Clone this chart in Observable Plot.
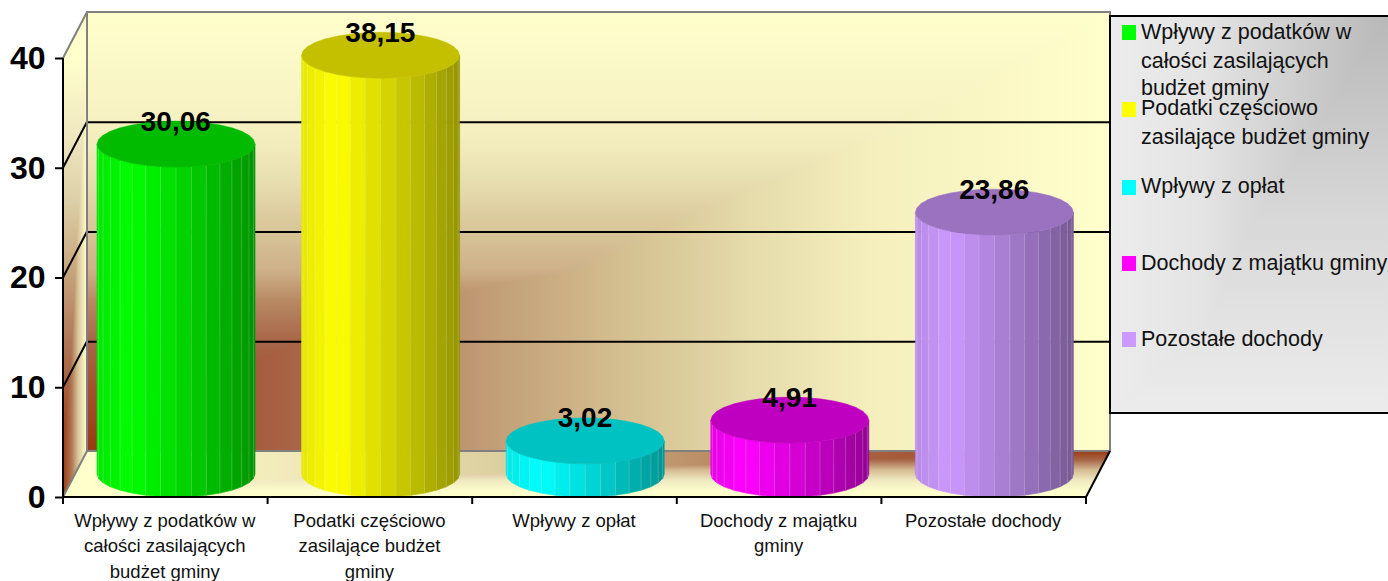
<!DOCTYPE html>
<html lang="pl">
<head>
<meta charset="utf-8">
<script src="https://cdn.jsdelivr.net/npm/d3@7"></script>
<script src="https://cdn.jsdelivr.net/npm/@observablehq/plot@0.6"></script>
<style>html,body{margin:0;padding:0;background:#fff}svg{display:block}</style>
</head>
<body>
<div id="chart"></div>
<script>
const categories = [
  "Wpływy z podatków w całości zasilających budżet gminy",
  "Podatki częściowo zasilające budżet gminy",
  "Wpływy z opłat",
  "Dochody z majątku gminy",
  "Pozostałe dochody"
];
const values = [30.06, 38.15, 3.02, 4.91, 23.86];
const valueLabels = ["30,06", "38,15", "3,02", "4,91", "23,86"];
const axisLabelLines = [
  "Wpływy z podatków w\ncałości zasilających\nbudżet gminy",
  "Podatki częściowo\nzasilające budżet\ngminy",
  "Wpływy z opłat",
  "Dochody z majątku\ngminy",
  "Pozostałe dochody"
];
const legendLines = [
  ["Wpływy z podatków w", "całości zasilających", "budżet gminy"],
  ["Podatki częściowo", "zasilające budżet gminy"],
  ["Wpływy z opłat"],
  ["Dochody z majątku gminy"],
  ["Pozostałe dochody"]
];
const yTicks = [0, 10, 20, 30, 40];
const bodyColors = ["#00ff00", "#ffff00", "#00ffff", "#ff00ff", "#cc99ff"];
const topColors = ["#00bb00", "#c4c000", "#00c2c2", "#c000c0", "#9a72c0"];

// Layout constants
const DEPTH_X = 24, DEPTH_Y = -46;
const RX = 79, RY = 23, FACETS = 32, CYL_DX = 10.7;
const rows = categories.map((c, i) => ({c, v: values[i], label: valueLabels[i]}));
const NS = "http://www.w3.org/2000/svg";

// Gradient stops, keyed on pixel position along each direction of the panels
const wallH = [[86,"#993a12"],[300,"#a86648"],[460,"#bd9570"],[626,"#d4c090"],[750,"#e5dbab"],[875,"#f5efbe"],[1110,"#ffffcc"]];
const wallV = [[451,"#993a12"],[341,"#a86648"],[300,"#b88a64"],[271,"#cdb088"],[231,"#d8c498"],[180,"#e8dfb0"],[134,"#f5efc0"],[12,"#ffffcc"]];
const floorH = [[1110,"#993a12"],[870,"#a86040"],[660,"#c09a70"],[500,"#dccfa0"],[300,"#f0e8b8"],[87,"#ffffcc"]];
const floorV = [[451,"#993a12"],[460,"#a86648"],[470,"#d4bb92"],[480,"#efe8c0"],[492,"#ffffcc"]];
const leftH = [[63,"#993a12"],[72,"#b07a58"],[78,"#d8c498"],[84,"#f5efc0"],[87,"#ffffcc"]];
const leftV = [[497,"#993a12"],[427,"#a04820"],[340,"#b07858"],[266,"#c8a880"],[200,"#ddd0a8"],[133,"#f0e8c0"],[58,"#ffffcc"]];
const legendH = [[1110,"#ececec"],[1200,"#e4e4e4"],[1290,"#d0d0d0"],[1388,"#b8b8b8"]];
const legendV = [[16,"#b8b8b8"],[220,"#d8d8d8"],[413,"#ececec"]];

function el(name, attrs, parent) {
  const e = document.createElementNS(NS, name);
  for (const k in attrs) e.setAttribute(k, attrs[k]);
  if (parent) parent.appendChild(e);
  return e;
}
let gid = 0;
function grad(defs, horizontal, stops) {
  const id = "g" + (++gid);
  const a = stops[0][0], b = stops[stops.length - 1][0];
  const g = el("linearGradient", Object.assign({id, gradientUnits: "userSpaceOnUse"},
    horizontal ? {x1: a, x2: b, y1: 0, y2: 0} : {x1: 0, x2: 0, y1: a, y2: b}), defs);
  for (const [p, c] of stops) el("stop", {offset: (p - a) / (b - a), "stop-color": c}, g);
  return `url(#${id})`;
}
// Panel coloured by the lighter of a horizontal and a vertical gradient.
function panel(parent, defs, points, hStops, vStops) {
  const id = "c" + (++gid);
  const cp = el("clipPath", {id}, defs);
  el("polygon", {points: points.map(p => p.join(",")).join(" ")}, cp);
  const xs = points.map(p => p[0]), ys = points.map(p => p[1]);
  const box = {x: d3.min(xs), y: d3.min(ys), width: d3.max(xs) - d3.min(xs), height: d3.max(ys) - d3.min(ys)};
  const g = el("g", {"clip-path": `url(#${id})`, style: "isolation:isolate"}, parent);
  el("rect", Object.assign({fill: grad(defs, true, hStops)}, box), g);
  el("rect", Object.assign({fill: grad(defs, false, vStops), style: "mix-blend-mode:lighten"}, box), g);
}

function walls(index, {x, y}) {
  const g = el("g", {});
  const defs = el("defs", {}, g);
  const [L, R] = x.range();
  const y0 = y(0), y40 = y(40);
  const bL = L + DEPTH_X, bR = R + DEPTH_X, bB = y0 + DEPTH_Y, bT = y40 + DEPTH_Y;
  panel(g, defs, [[bL,bT],[bR,bT],[bR,bB],[bL,bB]], wallH, wallV);
  panel(g, defs, [[L,y0],[R,y0],[bR,bB],[bL,bB]], floorH.slice().reverse(), floorV);
  panel(g, defs, [[L,y40],[bL,bT],[bL,bB],[L,y0]], leftH, leftV);
  for (const t of yTicks.slice(1, 4))
    el("line", {x1: L, y1: y(t), x2: bL, y2: y(t) + DEPTH_Y, stroke: "#000", "stroke-width": 2}, g);
  return g;
}

function frame(index, {x, y}) {
  const g = el("g", {fill: "none", "stroke-width": 2});
  const [L, R] = x.range();
  const y0 = y(0), y40 = y(40);
  const bL = L + DEPTH_X, bR = R + DEPTH_X, bB = y0 + DEPTH_Y, bT = y40 + DEPTH_Y;
  el("path", {stroke: "#808080", d: `M${L},${y40}L${bL},${bT}H${bR}V${bB}H${bL}V${bT}M${bL},${bB}L${L},${y0}`}, g);
  el("path", {stroke: "#000", d: `M${R},${y0}L${bR},${bB}`}, g);
  return g;
}

function cylinders(index, {x, y}) {
  const g = el("g", {});
  const off = x.bandwidth() / 2 + CYL_DX;
  rows.forEach((d, i) => {
    const cx = x(d.c) + off;
    const yBot = y(0) - RY, yTop = y(d.v) - RY;
    const shade = a => d3.interpolateRgb(bodyColors[i], "#000")(a);
    const body = d3.scaleLinear().domain([0, 0.22, 0.55, 1])
      .range([shade(0.1), bodyColors[i], shade(0.17), shade(0.42)]);
    for (let k = 0; k < FACETS / 2; k++) {
      const a0 = Math.PI - k * 2 * Math.PI / FACETS, a1 = a0 - 2 * Math.PI / FACETS;
      const xa = cx + RX * Math.cos(a0), xb = cx + RX * Math.cos(a1);
      const da = RY * Math.sin(a0), db = RY * Math.sin(a1);
      const c = body(((xa + xb) / 2 - cx + RX) / (2 * RX));
      el("polygon", {
        points: `${xa},${yTop + da} ${xb},${yTop + db} ${xb},${yBot + db} ${xa},${yBot + da}`,
        fill: c, stroke: c, "stroke-width": 0.6
      }, g);
      if (k > 0) el("line", {x1: xa, y1: yTop + da, x2: xa, y2: yBot + da, stroke: "#fff", "stroke-opacity": 0.2, "stroke-width": 1}, g);
    }
    const pts = d3.range(FACETS).map(k => {
      const a = k * 2 * Math.PI / FACETS;
      return `${cx + RX * Math.cos(a)},${yTop + RY * Math.sin(a)}`;
    }).join(" ");
    el("polygon", {points: pts, fill: topColors[i], stroke: topColors[i], "stroke-width": 0.5}, g);
  });
  return g;
}

function xBoundaryTicks(index, {x, y}) {
  const g = el("g", {stroke: "#000", "stroke-width": 2, fill: "none"});
  const [L, R] = x.range(), b = x.bandwidth();
  el("line", {x1: L, x2: R + 1, y1: y(0), y2: y(0)}, g);
  el("line", {x1: L, x2: L, y1: y(40), y2: y(0)}, g);
  for (let i = 0; i <= categories.length; i++)
    el("line", {x1: L + i * b, x2: L + i * b, y1: y(0), y2: y(0) + 7}, g);
  return g;
}

function legend(index, scales, channels, {width}) {
  const g = el("g", {});
  const defs = el("defs", {}, g);
  const lx = 1110, ty = 16, by = 413;
  panel(g, defs, [[lx,ty],[width,ty],[width,by],[lx,by]], legendH, legendV);
  el("path", {d: `M${width},${ty}H${lx}V${by}H${width}`, fill: "none", stroke: "#000", "stroke-width": 2}, g);
  const swatchTop = [25, 102, 180, 256, 332];
  const textY = [[39, 68, 95], [115, 144], [193], [270], [346]];
  legendLines.forEach((lines, i) => {
    el("rect", {x: 1122, y: swatchTop[i], width: 14, height: 15, fill: bodyColors[i]}, g);
    lines.forEach((ln, j) => {
      const t = el("text", {x: 1141, y: textY[i][j], "font-size": 21.5, fill: "#111", "text-anchor": "start"}, g);
      t.textContent = ln;
    });
  });
  return g;
}

const axisMap = new Map(categories.map((c, i) => [c, axisLabelLines[i]]));

const plot = Plot.plot({
  width: 1388, height: 581,
  marginLeft: 63, marginRight: 302, marginTop: 58, marginBottom: 84,
  style: {fontFamily: "'Liberation Sans', Arial, sans-serif", background: "#fff", overflow: "visible"},
  x: {type: "band", domain: categories, padding: 0, round: false, label: null},
  y: {domain: [0, 40], label: null},
  marks: [
    walls,
    Plot.ruleY([10, 20, 30], {dx: DEPTH_X, dy: DEPTH_Y, stroke: "#000", strokeWidth: 2}),
    frame,
    cylinders,
    xBoundaryTicks,
    Plot.axisY({ticks: yTicks, tickSize: 8, tickPadding: 10, fontSize: 32, fontWeight: "bold", stroke: "#000", strokeWidth: 2, label: null, fill: "#000", tickFormat: d => String(d)}),
    Plot.axisX({tickSize: 0, tickPadding: 11, dx: -1, fontSize: 18.5, lineHeight: 1.38, label: null, fill: "#111", tickFormat: c => axisMap.get(c), textOverflow: null, lineWidth: Infinity}),
    Plot.text(rows, {x: "c", y: "v", text: "label", dx: 10, dy: -46, fontSize: 28, fontWeight: "bold", fill: "#000"}),
    legend
  ]
});
document.getElementById("chart").appendChild(plot);
</script>
</body>
</html>
